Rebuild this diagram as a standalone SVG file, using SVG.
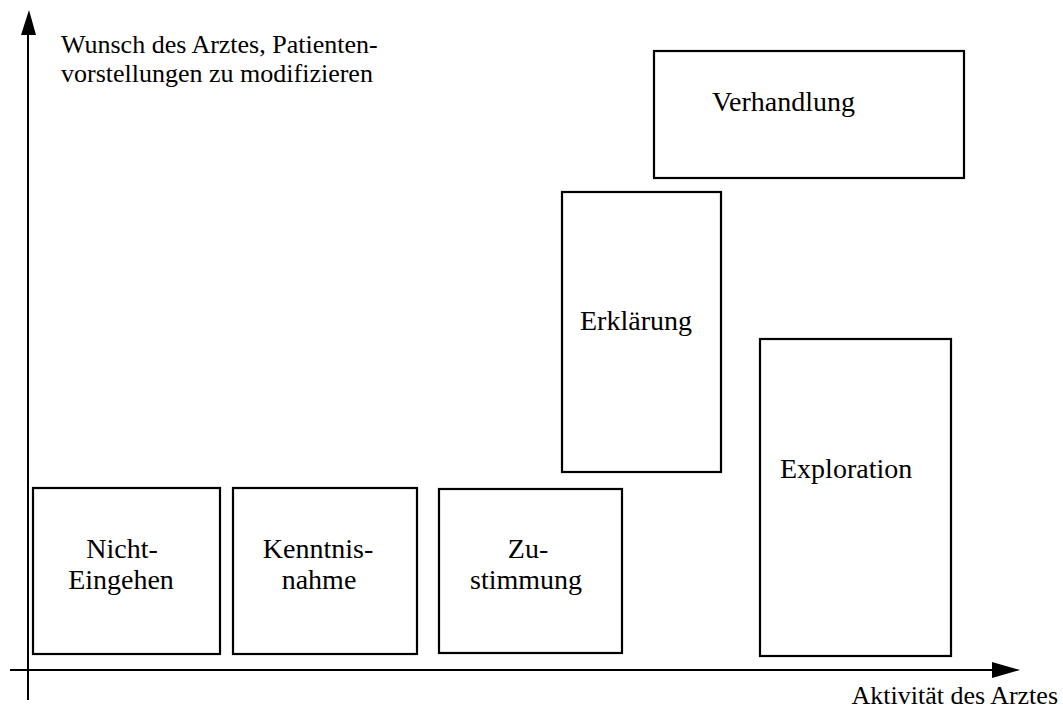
<svg xmlns="http://www.w3.org/2000/svg" width="1063" height="710" viewBox="0 0 1063 710">
<style>
.box{fill:#fff;stroke:#000;stroke-width:2.2}
.lbl{font-family:"Liberation Serif","Times New Roman",serif;font-size:28px;fill:#000}
.ax{font-family:"Liberation Serif","Times New Roman",serif;font-size:26px;fill:#000}
.axis{stroke:#000;stroke-width:2;fill:none}
</style>
<rect width="1063" height="710" fill="#fff"/>
<g id="axes">
<line class="axis" x1="28" y1="30" x2="28" y2="700"/>
<polygon points="29,10 21,35 36,35" fill="#000"/>
<line class="axis" x1="10" y1="670" x2="995" y2="670"/>
<polygon points="1020,670 992,662 992,678" fill="#000"/>
<text class="ax" x="61" y="53">Wunsch des Arztes, Patienten-</text>
<text class="ax" x="61" y="82">vorstellungen zu modifizieren</text>
<text class="ax" x="1058" y="704" text-anchor="end">Aktivität des Arztes</text>
</g>
<g id="nicht-eingehen">
<rect class="box" x="33" y="488" width="187" height="166"/>
<text class="lbl" x="122" y="558" text-anchor="middle">Nicht-</text>
<text class="lbl" x="121" y="589" text-anchor="middle">Eingehen</text>
</g>
<g id="kenntnisnahme">
<rect class="box" x="233" y="488" width="184" height="166"/>
<text class="lbl" x="318" y="558" text-anchor="middle">Kenntnis-</text>
<text class="lbl" x="319" y="589" text-anchor="middle">nahme</text>
</g>
<g id="zustimmung">
<rect class="box" x="439" y="489" width="183" height="164"/>
<text class="lbl" x="528" y="558" text-anchor="middle">Zu-</text>
<text class="lbl" x="526" y="589" text-anchor="middle">stimmung</text>
</g>
<g id="erklaerung">
<rect class="box" x="562" y="192" width="159" height="280"/>
<text class="lbl" x="580" y="330">Erklärung</text>
</g>
<g id="exploration">
<rect class="box" x="760" y="339" width="191" height="317"/>
<text class="lbl" x="780" y="478">Exploration</text>
</g>
<g id="verhandlung">
<rect class="box" x="654" y="51" width="310" height="127"/>
<text class="lbl" x="712" y="111">Verhandlung</text>
</g>
</svg>
